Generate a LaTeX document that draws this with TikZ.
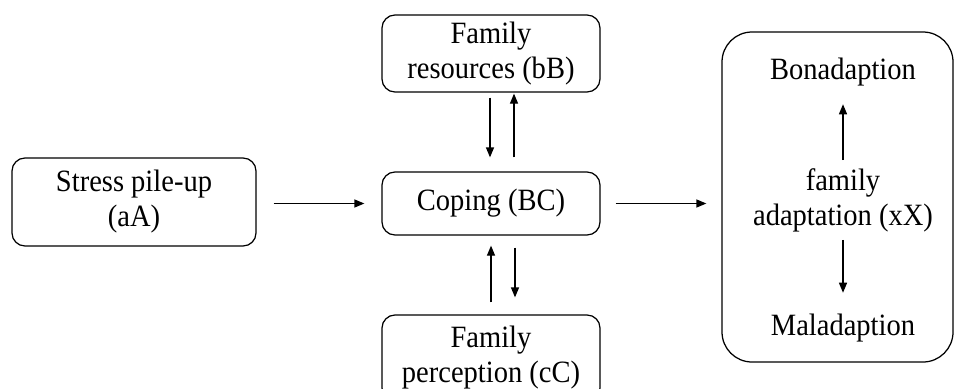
\documentclass[tikz,border=0pt]{standalone}
\usepackage{fontspec}
\setmainfont{Liberation Serif}[FakeStretch=0.92]
\usetikzlibrary{arrows.meta}
\begin{document}
\begin{tikzpicture}[x=1pt,y=-1pt,
  every node/.style={font=\fontsize{31}{35}\selectfont, align=center, inner sep=0pt},
  boxnode/.style={draw, line width=1.25pt, rounded corners=13pt},
  arr/.style={line width=1.25pt, -{Triangle[length=10pt,width=8pt]}}]
\useasboundingbox (0,0) rectangle (955,388);
\fill[white] (0,0) rectangle (955,388);
% boxes
\node[boxnode, minimum width=244pt, minimum height=88pt] (stress) at (134,202) {Stress pile-up\\(aA)};
\node[boxnode, minimum width=218pt, minimum height=77pt] (res) at (491,53.5) {Family\\resources (bB)};
\node[boxnode, minimum width=218pt, minimum height=63pt] (coping) at (491,203.5) {Coping (BC)};
\node[boxnode, minimum width=218pt, minimum height=86pt] (perc) at (491,358) {Family\\perception (cC)};
\node[boxnode, rounded corners=30pt, minimum width=231pt, minimum height=330pt] (outer) at (837.5,197) {};
% inner texts
\node (bona) at (843,72) {Bonadaption};
\node (adapt) at (843,200) {family\\adaptation (xX)};
\node (mala) at (843,328) {Maladaption};
% horizontal arrows
\draw[arr, shorten <=17pt, shorten >=17pt] (stress.east |- coping.east) -- (coping.west);
\draw[arr, shorten <=15pt, shorten >=15pt] (coping.east) -- (outer.west |- coping.east);
% vertical arrows
\draw[arr] ([xshift=-1pt,yshift=-5pt]res.south) -- ([xshift=-1pt,yshift=14pt]coping.north);
\draw[arr] ([xshift=23pt,yshift=14pt]coping.north) -- ([xshift=23pt,yshift=-1pt]res.south);
\draw[arr] ([yshift=12pt]perc.north) -- ([yshift=-10pt]coping.south);
\draw[arr] ([xshift=24pt,yshift=-12pt]coping.south) -- ([xshift=24pt,yshift=17pt]perc.north);
\draw[arr] ([yshift=8pt]adapt.north) -- ([yshift=-18pt]bona.south);
\draw[arr] ([yshift=-8pt]adapt.south) -- ([yshift=21pt]mala.north);
\end{tikzpicture}
\end{document}
